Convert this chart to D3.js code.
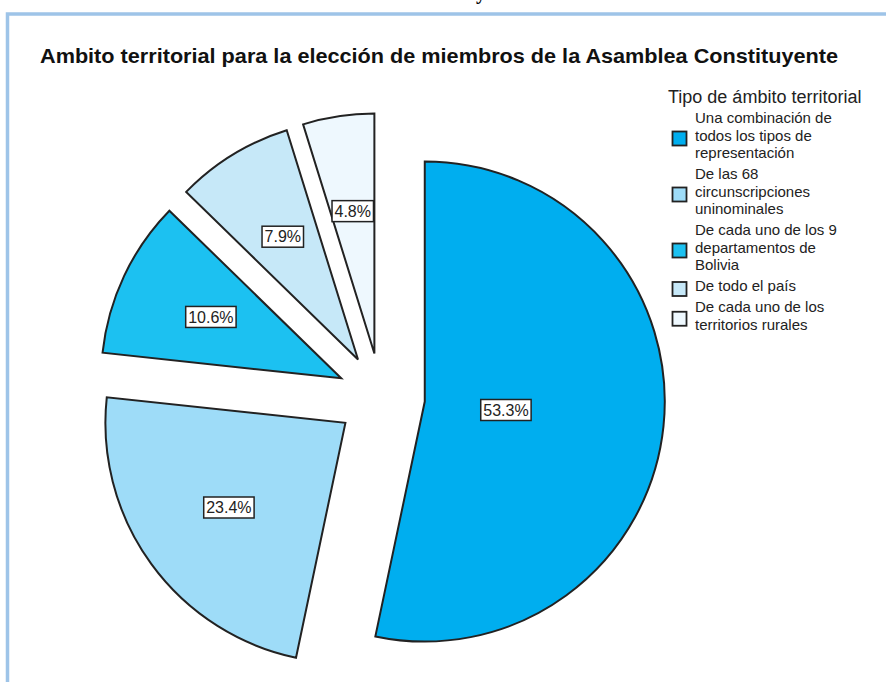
<!DOCTYPE html>
<meta charset="utf-8">
<script src="https://d3js.org/d3.v7.min.js"></script>
<style>
  body { margin: 0; background: #fff; }
  text { font-family: "Liberation Sans", Arial, sans-serif; }
</style>
<div id="pie_c"></div>
<script>

// data
var categories = [
  "Una combinación de todos los tipos de representación",
  "De las 68 circunscripciones uninominales",
  "De cada uno de los 9 departamentos de Bolivia",
  "De todo el país",
  "De cada uno de los territorios rurales"
];
var legendLines = [
  ["Una combinación de", "todos los tipos de", "representación"],
  ["De las 68", "circunscripciones", "uninominales"],
  ["De cada uno de los 9", "departamentos de", "Bolivia"],
  ["De todo el país"],
  ["De cada uno de los", "territorios rurales"]
];
var percents = [53.3, 23.4, 10.6, 7.9, 4.8];
var colors = ["#00aeef", "#9edcf8", "#1cc1f1", "#c6e8f8", "#eef8fe"];

var chartTitle = "Ambito territorial para la elección de miembros de la Asamblea Constituyente";
var legendTitle = "Tipo de ámbito territorial";

var width = 886, height = 682;
var cx = 381, cy = 397, radius = 240, explode = 44;

var svg = d3.select("#pie_c")
  .append("svg")
    .attr("width", width)
    .attr("height", height);

// cut-off header of the page above the frame
svg.append("text")
  .attr("x", 476).attr("y", -1)
  .style("font-family", "'Liberation Serif', serif")
  .style("font-weight", "bold")
  .style("font-size", "20px")
  .text("y");

// frame
svg.append("rect")
  .attr("x", 7.5).attr("y", 14)
  .attr("width", 1000).attr("height", 1000)
  .style("fill", "none")
  .style("stroke", "#9ec4e8")
  .style("stroke-width", 3.5);

svg.append("text")
  .attr("x", 40).attr("y", 63)
  .attr("textLength", 798)
  .attr("lengthAdjust", "spacingAndGlyphs")
  .style("font-weight", "bold")
  .style("font-size", "21px")
  .style("fill", "#111")
  .text(chartTitle);

var pie = d3.pie().sort(null).value(function(d) { return d; });
var arcs = pie(percents);

var arc = d3.arc().innerRadius(0).outerRadius(radius);

var g = svg.append("g")
  .attr("transform", "translate(" + cx + "," + cy + ")");

function offset(d) {
  var a = (d.startAngle + d.endAngle) / 2;
  return [Math.sin(a) * explode, -Math.cos(a) * explode];
}

var slices = g.selectAll("g.slice")
  .data(arcs)
  .enter()
  .append("g")
    .attr("class", "slice")
    .attr("transform", function(d) {
      var o = offset(d);
      return "translate(" + o[0] + "," + o[1] + ")";
    });

slices.append("path")
  .attr("d", arc)
  .style("fill", function(d, i) { return colors[i]; })
  .style("stroke", "#222")
  .style("stroke-width", 2)
  .style("stroke-linejoin", "miter");

// percentage labels in boxes
slices.each(function(d) {
  var a = (d.startAngle + d.endAngle) / 2;
  var dist = (d.endAngle - d.startAngle) > Math.PI ? radius * 0.34 : radius * 0.6;
  var lx = Math.sin(a) * dist, ly = -Math.cos(a) * dist;
  var lab = d3.select(this).append("g")
    .attr("transform", "translate(" + lx + "," + ly + ")");
  var t = lab.append("text")
    .attr("text-anchor", "middle")
    .attr("dy", "0.36em")
    .style("font-size", "16px")
    .style("fill", "#222")
    .text(d.value.toFixed(1) + "%");
  var bb = t.node().getBBox();
  lab.insert("rect", "text")
    .attr("x", bb.x - 2.5).attr("y", -10.5)
    .attr("width", bb.width + 5).attr("height", 21)
    .style("fill", "#fff")
    .style("stroke", "#222")
    .style("stroke-width", 1.5);
});

// legend
var legend = svg.append("g").attr("transform", "translate(668,0)");
legend.append("text")
  .attr("x", 0).attr("y", 103)
  .style("font-size", "18px")
  .style("fill", "#222")
  .text(legendTitle);

var lineH = 17.5, gap = 3.5, yPos = 123;
legendLines.forEach(function(lines, i) {
  var blockTop = yPos;
  var item = legend.append("g");
  lines.forEach(function(l, j) {
    item.append("text")
      .attr("x", 27).attr("y", yPos + j * lineH)
      .style("font-size", "15px")
      .style("fill", "#222")
      .text(l);
  });
  var mid = blockTop + (lines.length - 1) * lineH / 2;
  item.append("rect")
    .attr("x", 4.5).attr("y", mid - 9)
    .attr("width", 14).attr("height", 14)
    .style("fill", colors[i])
    .style("stroke", "#222")
    .style("stroke-width", 1.8);
  yPos += lines.length * lineH + gap;
});

</script>
